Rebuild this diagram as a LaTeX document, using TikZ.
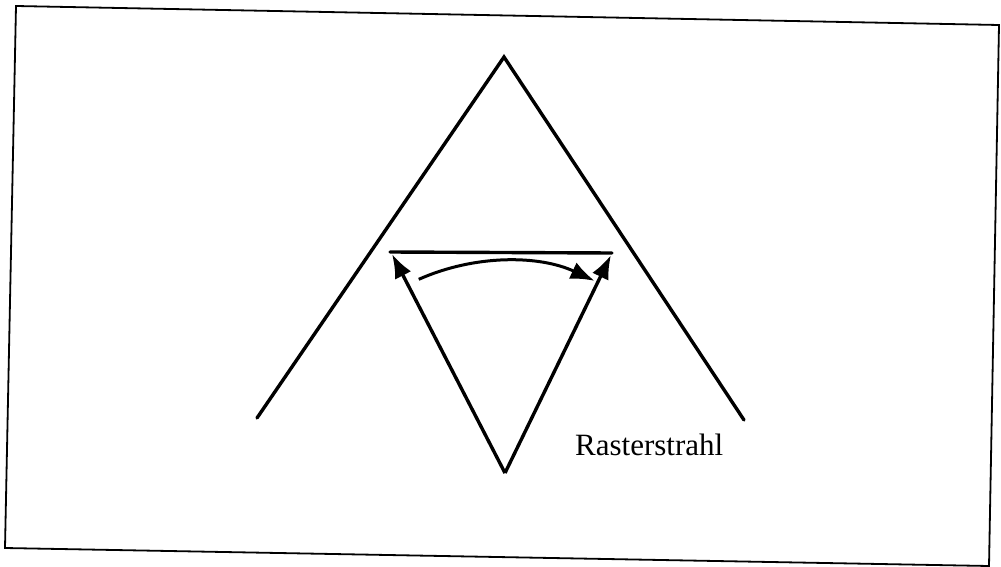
\documentclass[tikz,border=0pt]{standalone}
\usepackage{fontspec}
\setmainfont{Liberation Serif}
\usetikzlibrary{arrows.meta}
\begin{document}
\begin{tikzpicture}[x=1pt,y=-1pt,
  line/.style={line width=3.4pt,line cap=round,line join=miter},
  frame/.style={line width=1.8pt},
  arr/.style={line width=3.4pt,-{Latex[length=24pt,width=18pt]}},
  lbl/.style={font=\fontsize{31}{36}\selectfont,anchor=base west,inner sep=0pt}]
\useasboundingbox (0,0) rectangle (1001,567);
% frame (scanned, slightly rotated)
\coordinate (f1) at (16,6);
\coordinate (f2) at (999,25);
\coordinate (f3) at (989,566);
\coordinate (f4) at (5,548);
\draw[frame] (f1) -- (f2) -- (f3) -- (f4) -- cycle;
% points
\coordinate (A) at (504,57);
\coordinate (L) at (257,418);
\coordinate (R) at (744,420);
\coordinate (P1) at (390,252);
\coordinate (P2) at (612,253);
\coordinate (V) at (505,473);
\coordinate (T1) at (392,254);
\coordinate (T2) at (611,255);
% big wedge
\draw[line] (L) -- (A) -- (R);
% horizontal chord
\draw[line] (P1) -- (P2);
% beam arrows
\draw[arr] (V) -- (T1);
\draw[arr] (V) -- (T2);
% arc arrow centred at V
\draw[arr,line width=3pt] (V) ++(-114:212) arc[start angle=-114,end angle=-65,radius=212];
\node[lbl] (txt) at (575,455) {Rasterstrahl};
\end{tikzpicture}
\end{document}
